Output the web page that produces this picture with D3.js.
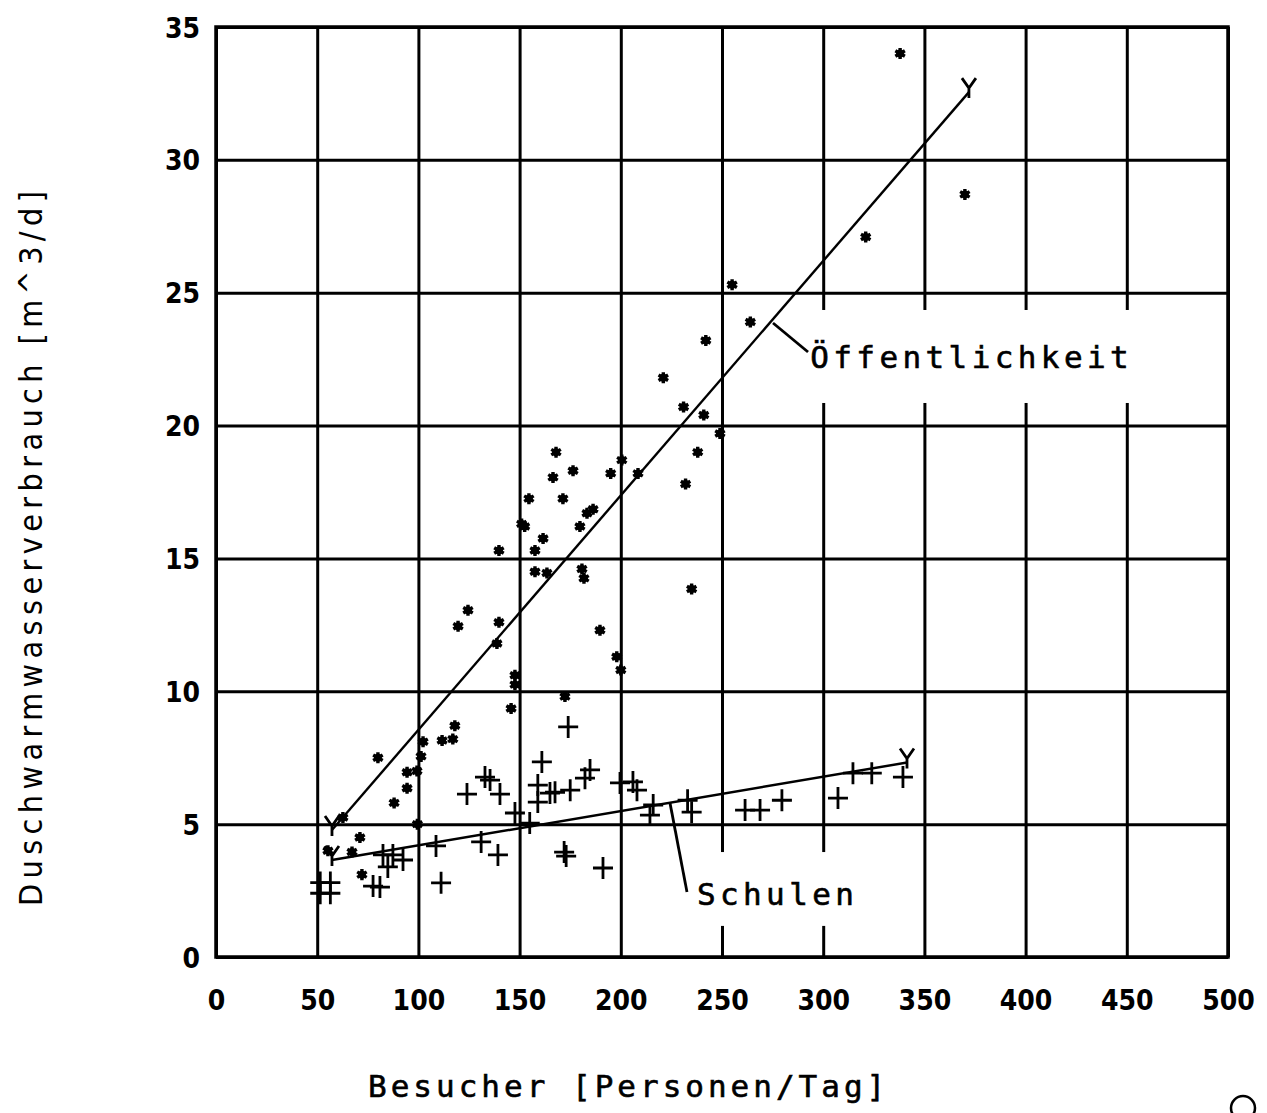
<!DOCTYPE html>
<html>
<head>
<meta charset="utf-8">
<script src="https://cdn.jsdelivr.net/npm/d3@7"></script>
<style>
  html, body { margin: 0; padding: 0; background: #fff; }
  svg { display: block; }
  text { font-family: "DejaVu Sans Mono", "Liberation Mono", monospace; fill: #000; }
</style>
</head>
<body>
<script>
// Duschwarmwasserverbrauch in Abhängigkeit der Besucherzahl

// Öffentlichkeit (Sterne)
const publicVisitors = [338, 370, 321, 255, 264, 242, 221, 231, 241, 249, 238, 200.5, 195, 208.5, 232, 235,
  168, 176.4, 166.5, 171.4, 154.6, 151, 152.5, 186.3, 183.3, 179.8, 161.6, 157.6, 139.8, 157.6, 163.5, 180.8, 181.8,
  124.5, 119.6, 139.8, 138.8, 189.7, 198, 200, 147.7, 147.7, 172.4, 145.8, 118, 117, 111.7, 102.3, 101.3, 80,
  94.4, 99.3, 94.4, 88, 62.7, 71.1, 67.2, 55.3, 72.1, 99.5];
const publicUse = [34.0, 28.7, 27.1, 25.3, 23.9, 23.2, 21.8, 20.7, 20.4, 19.7, 19.0, 18.7, 18.2, 18.2, 17.8, 13.85,
  19.0, 18.3, 18.05, 17.25, 17.25, 16.3, 16.2, 16.85, 16.7, 16.2, 15.75, 15.3, 15.3, 14.5, 14.45, 14.6, 14.25,
  13.05, 12.45, 12.6, 11.8, 12.3, 11.3, 10.8, 10.6, 10.25, 9.8, 9.35, 8.7, 8.2, 8.15, 8.1, 7.55, 7.5,
  6.95, 7.0, 6.35, 5.8, 5.25, 4.5, 3.95, 4.0, 3.1, 5.0];

// Schulen (Kreuze)
const schoolVisitors = [51.5, 56.5, 51.5, 56.5, 82.5, 87.4, 92.4, 84.9, 77.6, 81, 108.7, 131, 139.3, 111.2,
  124, 132.9, 135.4, 140.3, 174, 161, 159, 165, 167.5, 159, 175, 182.3, 184.8, 147.7, 155, 199.6, 206, 208,
  214.4, 216, 233, 235, 172, 173, 191.2, 261.4, 268.8, 279.6, 307.3, 314.7, 324, 339.4];
const schoolUse = [2.8, 2.8, 2.4, 2.4, 3.84, 3.84, 3.65, 3.39, 2.67, 2.63, 4.18, 4.33, 3.84, 2.79,
  6.13, 6.77, 6.66, 6.13, 8.66, 7.34, 6.47, 6.17, 6.2, 5.83, 6.28, 6.73, 7.04, 5.42, 5.04, 6.55, 6.59, 6.28,
  5.34, 5.72, 5.9, 5.45, 3.95, 3.8, 3.35, 5.53, 5.53, 5.9, 5.98, 6.92, 6.92, 6.77];

// Regressionsgeraden: [x, y] an Anfang und Ende
const publicFit = [[57.3, 4.78], [372, 32.55]];
const schoolFit = [[57.3, 3.65], [341.4, 7.32]];

// Achsen
const xTicks = [0, 50, 100, 150, 200, 250, 300, 350, 400, 450, 500];
const yTicks = [0, 5, 10, 15, 20, 25, 30, 35];
const xTitle = "Besucher [Personen/Tag]";
const yTitle = "Duschwarmwasserverbrauch [m^3/d]";

// Beschriftungen der Geraden: Hinweislinie (Start, Ende), Textanker, freigestellter Bereich
const publicLabel = { text: "Öffentlichkeit", leader: [[275.2, 23.86], [292.5, 22.77]], at: [293.6, 22.17],
  clear: [[288.5, 24.35], [461.5, 20.85]] };
const schoolLabel = { text: "Schulen", leader: [[224.3, 5.8], [232.7, 2.45]], at: [237.6, 1.96],
  clear: [[234, 3.95], [325.6, 1.17]] };

const W = 1267, H = 1113;
const margin = { left: 216, right: 39, top: 27, bottom: 156 };
const innerW = W - margin.left - margin.right;
const innerH = H - margin.top - margin.bottom;

const svg = d3.select("body").append("svg").attr("width", W).attr("height", H);
const g = svg.append("g").attr("transform", `translate(${margin.left},${margin.top})`);

const x = d3.scaleLinear().domain([0, 500]).range([0, innerW]);
const y = d3.scaleLinear().domain([0, 35]).range([innerH, 0]);

// Gitter und Achsbeschriftung
const xAxis = g.append("g")
  .attr("transform", `translate(0,${innerH})`)
  .call(d3.axisBottom(x).tickValues(xTicks).tickSize(-innerH).tickPadding(33).tickFormat(d3.format("d")));
const yAxis = g.append("g")
  .call(d3.axisLeft(y).tickValues(yTicks).tickSize(-innerW).tickPadding(16).tickFormat(d3.format("d")));

[xAxis, yAxis].forEach(a => {
  a.select(".domain").remove();
  a.selectAll(".tick line").attr("stroke", "#000").attr("stroke-width", 3);
  a.selectAll(".tick text")
    .style("font-family", "'DejaVu Sans Condensed', 'DejaVu Sans', sans-serif")
    .style("font-size", "28px").style("font-weight", "bold").attr("fill", "#000");
});
yAxis.selectAll(".tick text").attr("dy", "0.36em");

// Rahmen
g.append("rect").attr("x", 0).attr("y", 0).attr("width", innerW).attr("height", innerH)
  .attr("fill", "none").attr("stroke", "#000").attr("stroke-width", 3.5);

// Freigestellte Flächen für die Beschriftungen
[publicLabel, schoolLabel].forEach(l => {
  const [a, b] = l.clear;
  g.append("rect")
    .attr("x", x(a[0])).attr("y", y(a[1]))
    .attr("width", x(b[0]) - x(a[0])).attr("height", y(b[1]) - y(a[1]))
    .attr("fill", "#fff");
});

// Regressionsgeraden
const line = d3.line().x(d => x(d[0])).y(d => y(d[1]));
[publicFit, schoolFit].forEach(f => {
  g.append("path").attr("d", line(f)).attr("fill", "none").attr("stroke", "#000").attr("stroke-width", 2.4);
  // "Y"-Marken an den Enden
  f.forEach(p => {
    const cx = x(p[0]), cy = y(p[1]);
    g.append("path")
      .attr("d", `M${cx - 7},${cy - 14} L${cx},${cy - 4} L${cx + 7},${cy - 14} M${cx},${cy - 4} L${cx},${cy + 6}`)
      .attr("fill", "none").attr("stroke", "#000").attr("stroke-width", 2.8);
  });
});

// Hinweislinien und Texte
[publicLabel, schoolLabel].forEach(l => {
  g.append("path").attr("d", line(l.leader)).attr("fill", "none").attr("stroke", "#000").attr("stroke-width", 2.8);
  g.append("text")
    .attr("x", x(l.at[0])).attr("y", y(l.at[1]))
    .style("font-size", "31px").style("letter-spacing", "4.4px")
    .style("stroke", "#000").style("stroke-width", 0.6)
    .text(l.text);
});

// Öffentlichkeit: Sternsymbole
const star = d3.symbol().type(d3.symbolAsterisk).size(85);
const pub = d3.zip(publicVisitors, publicUse);
g.append("g").selectAll("g").data(pub).join("g")
  .attr("transform", d => `translate(${x(d[0])},${y(d[1])})`)
  .each(function () {
    const s = d3.select(this);
    s.append("circle").attr("r", 4).attr("fill", "#000");
    s.append("path").attr("d", star()).attr("fill", "none").attr("stroke", "#000").attr("stroke-width", 3.4);
  });

// Schulen: Kreuze
const sch = d3.zip(schoolVisitors, schoolUse);
g.append("g").selectAll("path").data(sch).join("path")
  .attr("d", d => {
    const cx = x(d[0]), cy = y(d[1]);
    return `M${cx - 10},${cy} L${cx + 10},${cy} M${cx},${cy - 11} L${cx},${cy + 11}`;
  })
  .attr("fill", "none").attr("stroke", "#000").attr("stroke-width", 2.8);

// Achstitel
svg.append("text")
  .attr("x", 368).attr("y", 1097)
  .style("font-size", "31px").style("letter-spacing", "4.0px")
  .style("stroke", "#000").style("stroke-width", 0.6)
  .text(xTitle);
svg.append("text")
  .attr("transform", "translate(42,906) rotate(-90)")
  .style("font-family", "'DejaVu Sans Condensed', 'DejaVu Sans', sans-serif")
  .style("font-size", "32px").style("letter-spacing", "5.4px")
  .text(yTitle);

// Zeichen unten rechts
svg.append("circle").attr("cx", 1243).attr("cy", 1108).attr("r", 12)
  .attr("fill", "none").attr("stroke", "#000").attr("stroke-width", 2.5);
</script>
</body>
</html>
